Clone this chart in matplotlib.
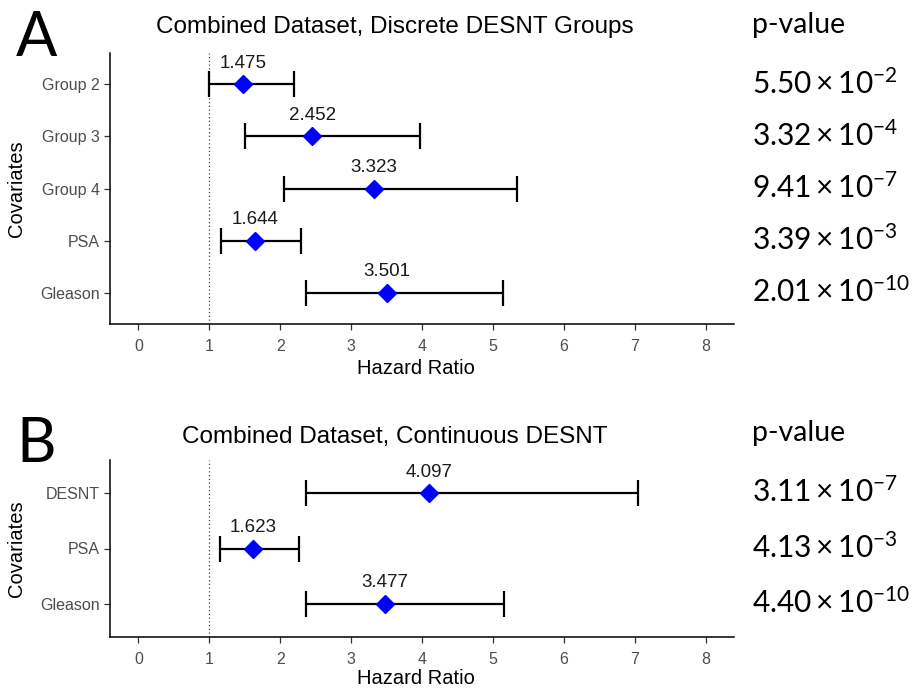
import matplotlib
matplotlib.use("Agg")
import matplotlib.pyplot as plt

plt.rcParams['font.family'] = ['Liberation Sans', 'DejaVu Sans']
plt.rcParams['mathtext.fontset'] = 'custom'
plt.rcParams['mathtext.rm'] = 'Lato'
plt.rcParams['mathtext.it'] = 'Lato:italic'

# panel A: discrete DESNT groups
covs_a = ['Group 2', 'Group 3', 'Group 4', 'PSA', 'Gleason']
hr_a = [1.475, 2.452, 3.323, 1.644, 3.501]
lo_a = [0.99, 1.50, 2.06, 1.17, 2.37]
hi_a = [2.19, 3.97, 5.34, 2.30, 5.14]
pval_a = [(5.50, -2), (3.32, -4), (9.41, -7), (3.39, -3), (2.01, -10)]

# panel B: continuous DESNT score
covs_b = ['DESNT', 'PSA', 'Gleason']
hr_b = [4.097, 1.623, 3.477]
lo_b = [2.37, 1.15, 2.36]
hi_b = [7.04, 2.26, 5.16]
pval_b = [(3.11, -7), (4.13, -3), (4.40, -10)]

xticks = list(range(0, 9))

W, H = 915, 688
fig = plt.figure(figsize=(W / 100, H / 100), dpi=100)


def px(x0, y_top, x1, y_bot):
    return [x0 / W, 1 - y_bot / H, (x1 - x0) / W, (y_bot - y_top) / H]


def forest(ax, covs, hr, lo, hi, pvals, title, title_y, letter, letter_y, head_y):
    n = len(covs)
    ys = list(range(1, n + 1))
    xerr = [[h - l for h, l in zip(hr, lo)], [u - h for h, u in zip(hr, hi)]]
    ax.errorbar(hr, ys, xerr=xerr, fmt='none', ecolor='black',
                elinewidth=1.6, capsize=9.5, capthick=1.6, zorder=2)
    ax.plot(hr, ys, 'D', color='#0000ff', markersize=9.6, zorder=3)
    for h, y in zip(hr, ys):
        ax.annotate(f'{h:.3f}', (h, y), xytext=(0, 12), textcoords='offset points',
                    ha='center', va='baseline', fontsize=13.5, color='#1a1a1a')
    ax.axvline(1, color='#444444', linestyle=(0, (1, 2)), linewidth=0.9, zorder=1)

    ax.set_xlim(-0.4, 8.4)
    ax.set_ylim(n + 0.6, 0.4)
    ax.set_xticks(xticks)
    ax.set_yticks(ys)
    ax.set_yticklabels(covs)
    for s in ['top', 'right']:
        ax.spines[s].set_visible(False)
    for s in ['left', 'bottom']:
        ax.spines[s].set_linewidth(1.1)
    ax.tick_params(axis='both', colors='#333333', length=4.5, width=0.9,
                   labelsize=11.5, labelcolor='#4d4d4d')
    ax.tick_params(axis='x', pad=6)
    ax.tick_params(axis='y', pad=3)
    ax.set_xlabel('Hazard Ratio', fontsize=14.5)
    ax.set_ylabel('Covariates', fontsize=14.5)

    fig.text(395 / W, 1 - title_y / H, title, ha='center', va='center', fontsize=17.5)
    fig.text(16 / W, 1 - letter_y / H, letter, ha='left', va='center',
             fontsize=44, family='Lato')
    fig.text(752 / W, 1 - head_y / H, 'p-value', ha='left', va='center',
             fontsize=20.5, family='Lato')
    # p-values aligned with each covariate row
    for (m, e), y in zip(pvals, ys):
        yd = ax.transData.transform((0, y))[1]
        yf = fig.transFigure.inverted().transform((0, yd))[1]
        fig.text(752 / W, yf, rf'$\mathrm{{{m:.2f}\times10^{{{e}}}}}$',
                 ha='left', va='center', fontsize=21.5)


ax_a = fig.add_axes(px(110, 53, 734, 324))
ax_b = fig.add_axes(px(110, 460, 734, 637))

forest(ax_a, covs_a, hr_a, lo_a, hi_a, pval_a,
       'Combined Dataset, Discrete DESNT Groups', 27, 'A', 38, 25)
forest(ax_b, covs_b, hr_b, lo_b, hi_b, pval_b,
       'Combined Dataset, Continuous DESNT', 437, 'B', 445, 433)

ax_a.xaxis.set_label_coords(0.49, -0.128)
ax_a.yaxis.set_label_coords(-0.135, 0.5)
ax_b.xaxis.set_label_coords(0.49, -0.18)
ax_b.yaxis.set_label_coords(-0.135, 0.5)

fig.savefig('out.png', dpi=100)
